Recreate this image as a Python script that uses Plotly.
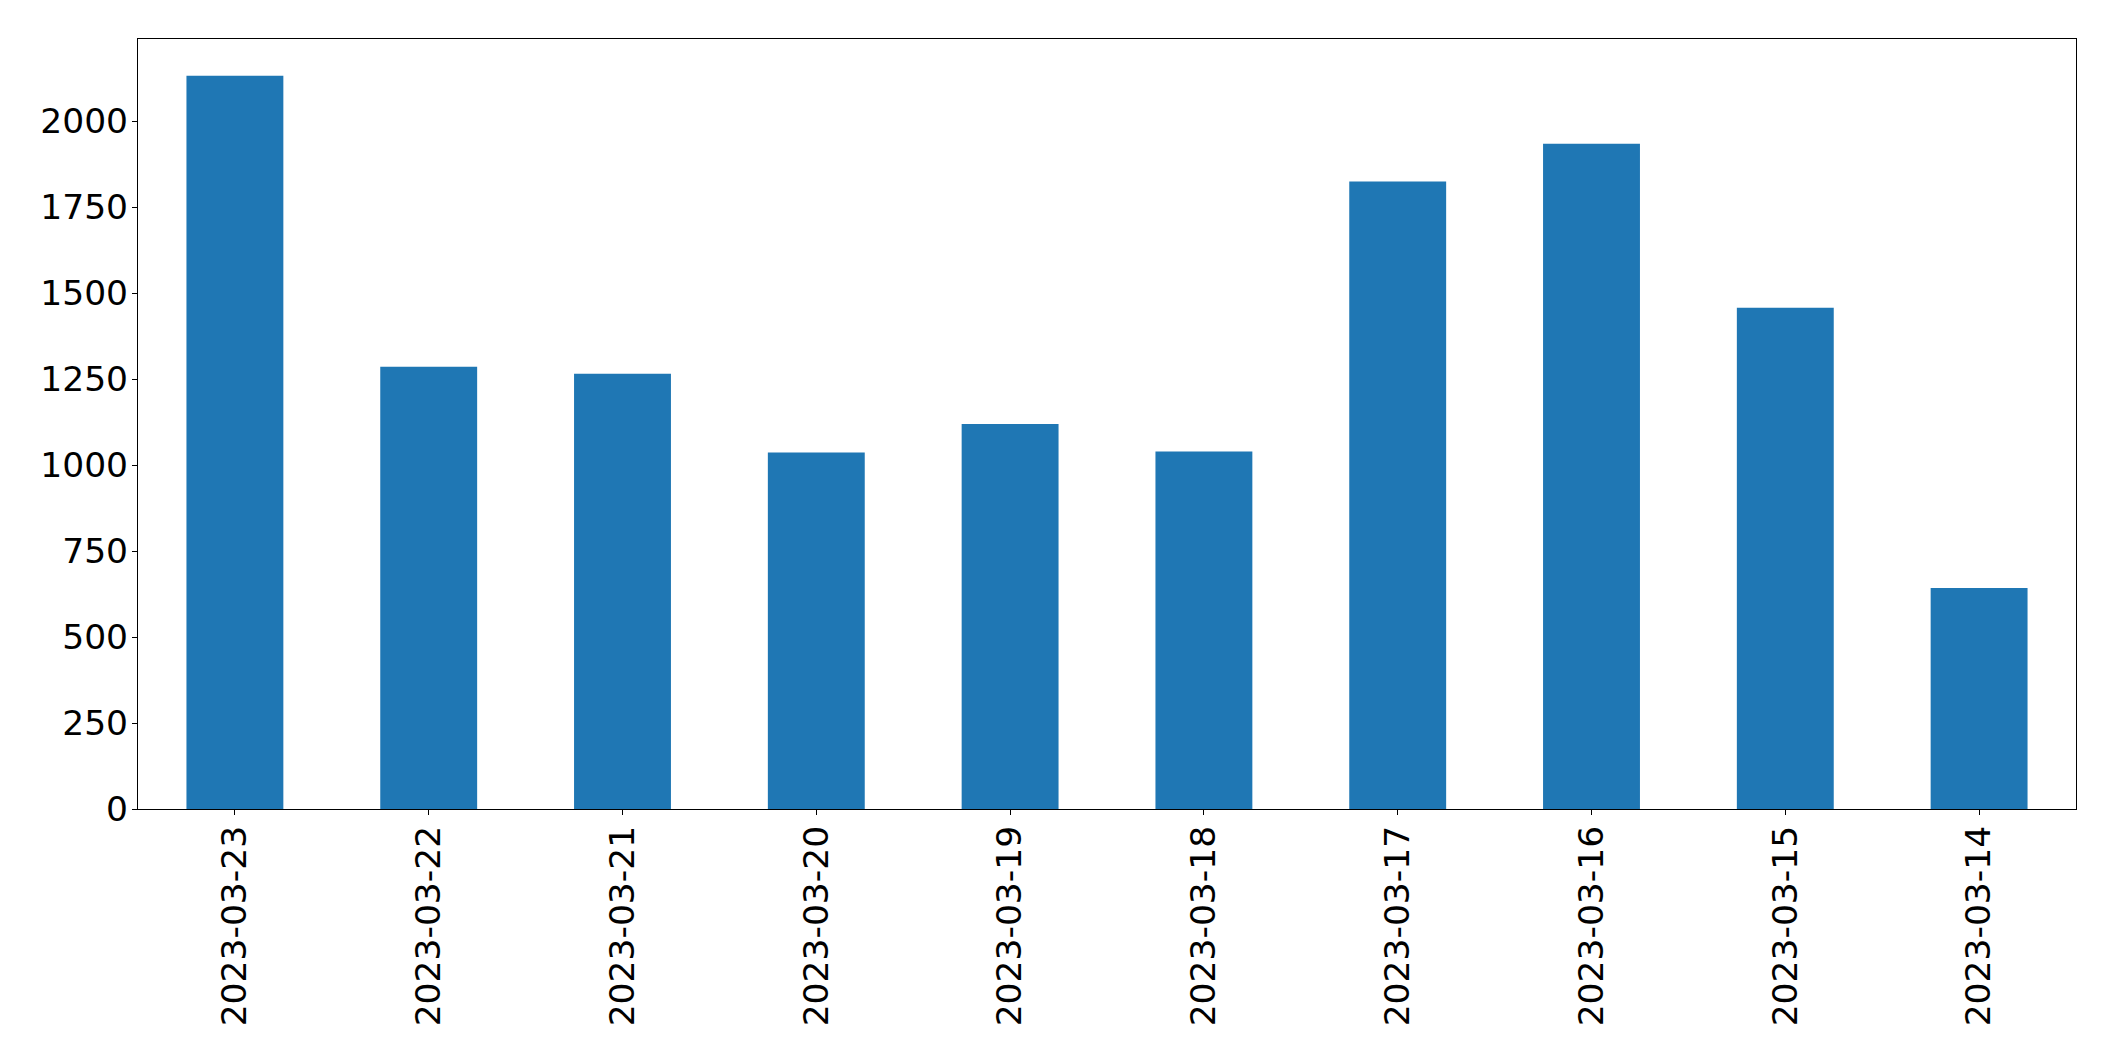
import plotly.graph_objects as go

dates = ["2023-03-23", "2023-03-22", "2023-03-21", "2023-03-20", "2023-03-19",
         "2023-03-18", "2023-03-17", "2023-03-16", "2023-03-15", "2023-03-14"]
counts = [2133, 1286, 1266, 1037, 1120, 1040, 1825, 1935, 1458, 643]
y_ticks = [0, 250, 500, 750, 1000, 1250, 1500, 1750, 2000]

fig = go.Figure(go.Bar(
    x=list(range(len(dates))),
    y=counts,
    width=0.5,
    marker=dict(color="#1f77b4", line=dict(width=0)),
))

axis_common = dict(
    showline=True, linecolor="black", linewidth=1.1, mirror=True,
    showgrid=False, zeroline=False,
    ticks="outside", ticklen=5, tickwidth=1.1, tickcolor="black",
    ticklabelstandoff=-3,
    tickfont=dict(family="DejaVu Sans", size=34.5, color="black"),
)

fig.update_layout(
    width=2107, height=1053,
    margin=dict(l=130, r=39, t=31, b=252),
    paper_bgcolor="white", plot_bgcolor="white",
    showlegend=False,
    xaxis=dict(
        range=[-0.5, len(dates) - 0.5],
        tickmode="array", tickvals=list(range(len(dates))), ticktext=dates,
        tickangle=-90,
        **axis_common,
    ),
    yaxis=dict(
        range=[0, max(counts) * 1.05],
        tickmode="array", tickvals=y_ticks, ticktext=[str(v) for v in y_ticks],
        **axis_common,
    ),
)

fig.write_html("out.html")
